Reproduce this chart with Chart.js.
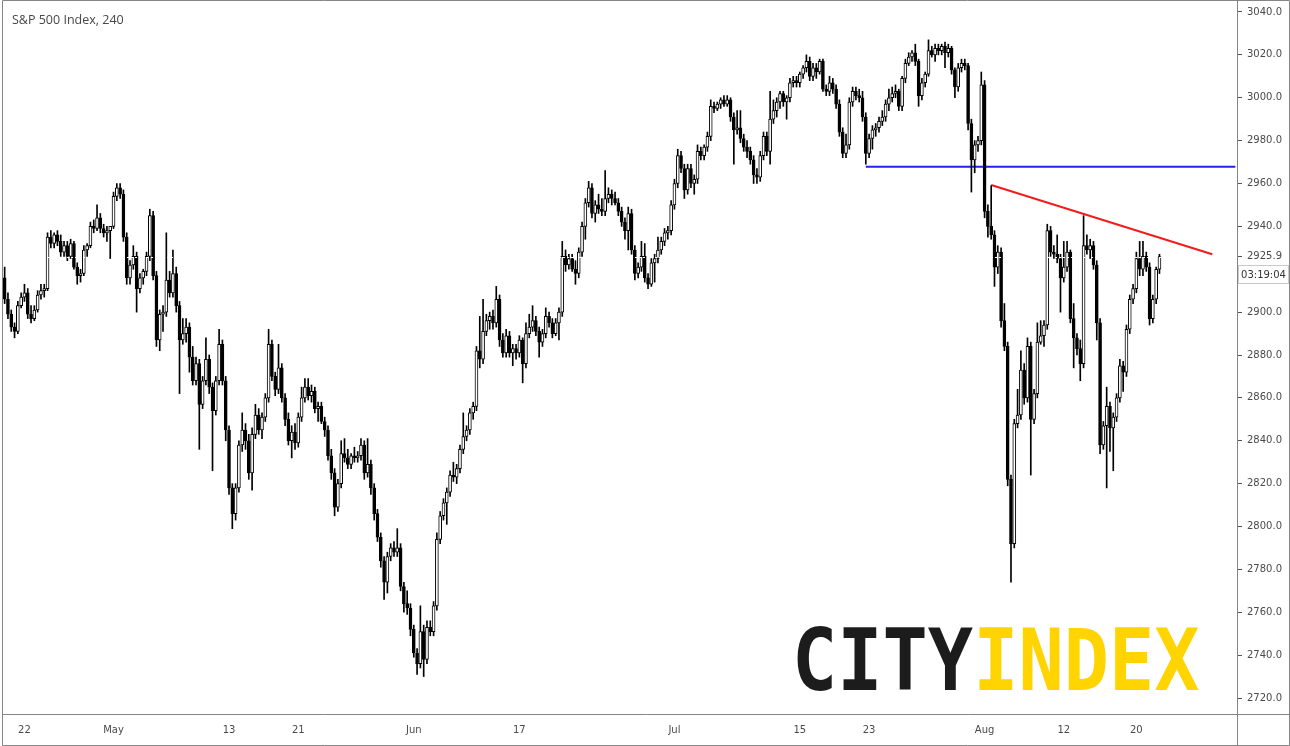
<!DOCTYPE html>
<html>
<head>
<meta charset="utf-8">
<title>S&amp;P 500 Index, 240</title>
<script src="https://cdn.jsdelivr.net/npm/chart.js@4.4.1/dist/chart.umd.min.js"></script>
<style>
  html, body { margin: 0; padding: 0; background: #fff; }
  #wrap { width: 1290px; height: 746px; }
</style>
</head>
<body>
<div id="wrap"><canvas id="spxChart" width="1290" height="746"></canvas></div>
<script>
// x axis: which bar slot carries which date label
const xTickSlots = [6, 33, 68, 89, 124, 156, 203, 241, 262, 297, 321, 343];
const xTickText = ['22', 'May', '13', '21', 'Jun', '17', 'Jul', '15', '23', 'Aug', '12', '20'];

// y axis labels (2920 is hidden behind the last price label)
const yTicks = [2720, 2740, 2760, 2780, 2800, 2820, 2840, 2860, 2880, 2900, 2925.9,
                2940, 2960, 2980, 3000, 3020, 3040];
const lastPrice = 2925.9;
const countdown = '03:19:04';
const totalSlots = 374; // bars + empty space on the right

// 240 minute candles
const opens = [
  2916, 2906, 2899, 2893, 2891, 2903, 2907, 2909, 2899, 2897,
  2901, 2908, 2910, 2911, 2935, 2932, 2936, 2933, 2928, 2931,
  2926, 2932, 2921, 2917, 2918, 2929, 2931, 2940, 2939, 2944,
  2939, 2937, 2938, 2940, 2954, 2958, 2955, 2935, 2916, 2922,
  2926, 2911, 2916, 2919, 2926, 2945, 2917, 2887, 2899, 2900,
  2915, 2909, 2918, 2903, 2887, 2890, 2893, 2879, 2868, 2876,
  2857, 2868, 2878, 2865, 2854, 2868, 2885, 2868, 2845, 2818,
  2806, 2818, 2838, 2845, 2840, 2825, 2843, 2852, 2845, 2851,
  2860, 2885, 2870, 2864, 2874, 2860, 2850, 2840, 2844, 2839,
  2851, 2860, 2865, 2861, 2863, 2855, 2856, 2849, 2845, 2833,
  2825, 2809, 2820, 2834, 2832, 2829, 2833, 2832, 2833, 2838,
  2825, 2829, 2818, 2806, 2795, 2784, 2774, 2786, 2790, 2788,
  2790, 2772, 2764, 2762, 2752, 2741, 2736, 2751, 2738, 2753,
  2751, 2763, 2794, 2805, 2811, 2816, 2824, 2823, 2827, 2836,
  2842, 2845, 2853, 2856, 2882, 2878, 2891, 2896, 2898, 2895,
  2906, 2887, 2881, 2889, 2881, 2883, 2881, 2887, 2876, 2890,
  2893, 2896, 2891, 2886, 2890, 2898, 2895, 2890, 2895, 2900,
  2926, 2922, 2925, 2920, 2918, 2928, 2940, 2951, 2958, 2946,
  2950, 2948, 2947, 2953, 2955, 2953, 2951, 2947, 2942, 2938,
  2946, 2929, 2918, 2921, 2926, 2916, 2913, 2923, 2925, 2929,
  2933, 2937, 2938, 2950, 2960, 2973, 2967, 2957, 2967, 2960,
  2962, 2975, 2973, 2977, 2982, 2996, 2995, 2997, 2999, 2997,
  2999, 2991, 2985, 2986, 2981, 2977, 2975, 2971, 2964, 2963,
  2973, 2982, 2975, 2990, 2994, 2998, 3002, 2998, 3000, 3007,
  3008, 3007, 3011, 3014, 3017, 3010, 3014, 3012, 3017, 3004,
  3003, 3007, 3004, 2997, 2984, 2974, 2978, 2998, 3003, 3001,
  3000, 2991, 2974, 2981, 2985, 2986, 2989, 2991, 2997, 3000,
  3002, 3003, 2996, 3009, 3016, 3019, 3021, 3017, 3001, 3007,
  3011, 3022, 3020, 3023, 3022, 3024, 3021, 3023, 3013, 3005,
  3014, 3016, 3015, 2988, 2971, 2978, 2980, 3006, 2947, 2940,
  2936, 2921, 2928, 2896, 2884, 2822, 2792, 2848, 2852, 2873,
  2860, 2884, 2850, 2862, 2886, 2889, 2894, 2938, 2928, 2927,
  2925, 2916, 2921, 2928, 2897, 2888, 2883, 2876, 2931, 2929,
  2931, 2922, 2895, 2838, 2847, 2856, 2846, 2851, 2860, 2875,
  2872, 2892, 2906, 2911, 2925, 2920, 2926, 2921, 2897, 2906, 2920
];
const highs = [
  2921, 2909, 2901, 2895, 2905, 2909, 2913, 2911, 2903, 2903,
  2910, 2913, 2913, 2937, 2938, 2937, 2938, 2936, 2933, 2933,
  2934, 2933, 2923, 2920, 2931, 2932, 2942, 2943, 2950, 2946,
  2941, 2940, 2940, 2956, 2960, 2960, 2957, 2937, 2924, 2931,
  2928, 2918, 2920, 2928, 2948, 2947, 2919, 2901, 2903, 2937,
  2919, 2929, 2921, 2905, 2897, 2897, 2895, 2884, 2879, 2878,
  2870, 2888, 2880, 2867, 2870, 2892, 2887, 2870, 2847, 2820,
  2820, 2840, 2853, 2848, 2843, 2846, 2857, 2855, 2853, 2862,
  2892, 2887, 2872, 2885, 2876, 2862, 2853, 2847, 2848, 2853,
  2865, 2869, 2869, 2866, 2865, 2858, 2858, 2851, 2847, 2836,
  2827, 2822, 2840, 2841, 2836, 2834, 2837, 2835, 2841, 2840,
  2841, 2831, 2820, 2808, 2797, 2786, 2788, 2792, 2793, 2799,
  2792, 2774, 2770, 2764, 2754, 2743, 2763, 2754, 2756, 2756,
  2765, 2797, 2807, 2813, 2818, 2826, 2830, 2829, 2838, 2853,
  2847, 2855, 2858, 2884, 2898, 2906, 2899, 2900, 2901, 2912,
  2908, 2890, 2892, 2891, 2885, 2885, 2889, 2888, 2895, 2899,
  2903, 2898, 2893, 2892, 2902, 2900, 2897, 2897, 2902, 2933,
  2929, 2927, 2927, 2924, 2930, 2942, 2953, 2961, 2960, 2952,
  2955, 2953, 2966, 2958, 2957, 2956, 2953, 2949, 2944, 2949,
  2948, 2931, 2923, 2933, 2932, 2918, 2925, 2927, 2935, 2935,
  2939, 2940, 2952, 2962, 2976, 2975, 2969, 2969, 2969, 2964,
  2978, 2977, 2978, 2984, 2999, 2998, 2998, 3000, 3001, 3001,
  3000, 2993, 2994, 2994, 2983, 2980, 2977, 2973, 2967, 2975,
  2984, 2984, 3003, 2999, 3000, 3003, 3003, 3001, 3009, 3010,
  3010, 3012, 3015, 3020, 3019, 3016, 3016, 3018, 3018, 3006,
  3010, 3009, 3006, 2999, 2986, 2983, 3000, 3005, 3005, 3004,
  3003, 2993, 2983, 2987, 2988, 2991, 2994, 2999, 3004, 3005,
  3006, 3004, 3010, 3018, 3021, 3022, 3025, 3018, 3009, 3012,
  3027, 3024, 3025, 3025, 3025, 3026, 3025, 3024, 3014, 3016,
  3018, 3018, 3016, 2990, 2980, 2982, 3012, 3008, 2950, 2959,
  2938, 2931, 2930, 2904, 2886, 2824, 2850, 2864, 2882, 2876,
  2888, 2886, 2864, 2895, 2896, 2896, 2941, 2940, 2931, 2936,
  2927, 2933, 2933, 2929, 2904, 2890, 2887, 2945, 2936, 2934,
  2933, 2924, 2897, 2849, 2865, 2858, 2853, 2862, 2878, 2877,
  2894, 2908, 2913, 2928, 2933, 2933, 2928, 2923, 2908, 2921, 2927
];
const lows = [
  2904, 2897, 2891, 2888, 2890, 2902, 2905, 2897, 2895, 2896,
  2900, 2906, 2907, 2910, 2930, 2930, 2931, 2926, 2926, 2924,
  2925, 2920, 2913, 2914, 2917, 2926, 2930, 2937, 2938, 2937,
  2935, 2933, 2925, 2939, 2952, 2953, 2933, 2913, 2913, 2920,
  2900, 2909, 2913, 2917, 2924, 2915, 2884, 2882, 2891, 2898,
  2907, 2907, 2900, 2862, 2885, 2886, 2872, 2866, 2866, 2836,
  2855, 2866, 2862, 2826, 2852, 2866, 2866, 2840, 2815, 2799,
  2803, 2816, 2835, 2836, 2822, 2817, 2841, 2843, 2841, 2849,
  2858, 2868, 2861, 2862, 2858, 2847, 2838, 2832, 2836, 2837,
  2849, 2858, 2859, 2858, 2853, 2849, 2848, 2842, 2831, 2822,
  2805, 2807, 2818, 2830, 2827, 2827, 2830, 2830, 2831, 2822,
  2823, 2815, 2803, 2793, 2781, 2766, 2769, 2784, 2786, 2786,
  2770, 2760, 2759, 2749, 2739, 2731, 2734, 2730, 2736, 2749,
  2749, 2761, 2792, 2803, 2801, 2814, 2821, 2820, 2825, 2834,
  2840, 2843, 2850, 2854, 2874, 2876, 2889, 2892, 2892, 2893,
  2884, 2879, 2879, 2879, 2875, 2878, 2879, 2867, 2874, 2888,
  2891, 2889, 2879, 2884, 2888, 2893, 2888, 2889, 2887, 2898,
  2919, 2920, 2919, 2913, 2916, 2926, 2934, 2949, 2944, 2942,
  2946, 2945, 2945, 2951, 2950, 2950, 2945, 2940, 2934, 2929,
  2927, 2915, 2916, 2919, 2914, 2911, 2912, 2914, 2923, 2927,
  2931, 2934, 2936, 2948, 2958, 2965, 2953, 2955, 2958, 2955,
  2960, 2971, 2971, 2975, 2980, 2993, 2994, 2995, 2996, 2996,
  2989, 2969, 2983, 2979, 2975, 2972, 2969, 2960, 2960, 2961,
  2971, 2973, 2969, 2988, 2991, 2995, 2996, 2990, 2998, 3005,
  3005, 3005, 3009, 3012, 3008, 3008, 3009, 3011, 3003, 3001,
  3001, 3002, 2995, 2982, 2972, 2972, 2976, 2996, 2999, 2998,
  2989, 2969, 2972, 2976, 2982, 2984, 2987, 2989, 2994, 2998,
  3000, 2994, 2994, 3007, 3015, 3017, 3015, 2996, 2999, 3005,
  3010, 3019, 3017, 3020, 3020, 3014, 3019, 3011, 3000, 3003,
  3012, 3013, 2985, 2956, 2965, 2975, 2978, 2944, 2935, 2934,
  2912, 2918, 2893, 2882, 2819, 2774, 2790, 2846, 2850, 2857,
  2858, 2824, 2848, 2860, 2885, 2884, 2892, 2926, 2925, 2923,
  2900, 2914, 2919, 2895, 2874, 2880, 2868, 2874, 2927, 2925,
  2920, 2887, 2834, 2836, 2818, 2835, 2826, 2849, 2858, 2863,
  2870, 2890, 2904, 2909, 2917, 2917, 2919, 2894, 2895, 2904, 2918
];
const closes = [
  2906, 2899, 2893, 2891, 2903, 2907, 2909, 2899, 2897, 2901,
  2908, 2910, 2911, 2935, 2932, 2936, 2933, 2928, 2931, 2926,
  2932, 2921, 2917, 2918, 2929, 2931, 2940, 2939, 2944, 2939,
  2937, 2938, 2940, 2954, 2958, 2955, 2935, 2916, 2922, 2926,
  2911, 2916, 2919, 2926, 2945, 2917, 2887, 2899, 2900, 2915,
  2909, 2918, 2903, 2887, 2890, 2893, 2879, 2868, 2876, 2857,
  2868, 2878, 2865, 2854, 2868, 2885, 2868, 2845, 2818, 2806,
  2818, 2838, 2845, 2840, 2825, 2843, 2852, 2845, 2851, 2860,
  2885, 2870, 2864, 2874, 2860, 2850, 2840, 2844, 2839, 2851,
  2860, 2865, 2861, 2863, 2855, 2856, 2849, 2845, 2833, 2825,
  2809, 2820, 2834, 2832, 2829, 2833, 2832, 2833, 2838, 2825,
  2829, 2818, 2806, 2795, 2784, 2774, 2786, 2790, 2788, 2790,
  2772, 2764, 2762, 2752, 2741, 2736, 2751, 2738, 2753, 2751,
  2763, 2794, 2805, 2811, 2816, 2824, 2823, 2827, 2836, 2842,
  2845, 2853, 2856, 2882, 2878, 2891, 2896, 2898, 2895, 2906,
  2887, 2881, 2889, 2881, 2883, 2881, 2887, 2876, 2890, 2893,
  2896, 2891, 2886, 2890, 2898, 2895, 2890, 2895, 2900, 2926,
  2922, 2925, 2920, 2918, 2928, 2940, 2951, 2958, 2946, 2950,
  2948, 2947, 2953, 2955, 2953, 2951, 2947, 2942, 2938, 2946,
  2929, 2918, 2921, 2926, 2916, 2913, 2923, 2925, 2929, 2933,
  2937, 2938, 2950, 2960, 2973, 2967, 2957, 2967, 2960, 2962,
  2975, 2973, 2977, 2982, 2996, 2995, 2997, 2999, 2997, 2999,
  2991, 2985, 2986, 2981, 2977, 2975, 2971, 2964, 2963, 2973,
  2982, 2975, 2990, 2994, 2998, 3002, 2998, 3000, 3007, 3008,
  3007, 3011, 3014, 3017, 3010, 3014, 3012, 3017, 3004, 3003,
  3007, 3004, 2997, 2984, 2974, 2978, 2998, 3003, 3001, 3000,
  2991, 2974, 2981, 2985, 2986, 2989, 2991, 2997, 3000, 3002,
  3003, 2996, 3009, 3016, 3019, 3021, 3017, 3001, 3007, 3011,
  3022, 3020, 3023, 3022, 3024, 3021, 3023, 3013, 3005, 3014,
  3016, 3015, 2988, 2971, 2978, 2980, 3006, 2947, 2940, 2936,
  2921, 2928, 2896, 2884, 2822, 2792, 2848, 2852, 2873, 2860,
  2884, 2850, 2862, 2886, 2889, 2894, 2938, 2928, 2927, 2925,
  2916, 2921, 2928, 2897, 2888, 2883, 2876, 2931, 2929, 2931,
  2922, 2895, 2838, 2847, 2856, 2846, 2851, 2860, 2875, 2872,
  2892, 2906, 2911, 2925, 2920, 2926, 2921, 2897, 2906, 2920, 2925.9
];

// drawn lines: [slot, price]
const blueLine = [[261, 2967.8], [373, 2967.8]];
const redLine = [[299, 2959.3], [366, 2927.0]];

const slots = Array.from({ length: totalSlots }, (_, i) => i);
const bodies = opens.map((o, i) => [o, closes[i]]);
const wicks = lows.map((l, i) => [l, highs[i]]);
const bodyColors = opens.map((o, i) => closes[i] >= o ? '#ffffff' : '#000000');

const axisFont = { family: 'DejaVu Sans', size: 10 };

// frame, title, countdown box, last price dotted line and watermark
const decorPlugin = {
    id: 'decor',
    beforeDatasetsDraw(chart) {
        const ctx = chart.ctx;
        ctx.save();
        ctx.font = 'bold 85px "DejaVu Sans Mono"';
        ctx.textBaseline = 'alphabetic';
        ctx.translate(792, 690);
        ctx.scale(0.885, 1);
        ctx.fillStyle = '#1c1c1c';
        ctx.fillText('CITY', 0, 0);
        const w = ctx.measureText('CITY').width;
        ctx.fillStyle = '#ffd400';
        ctx.fillText('INDEX', w, 0);
        ctx.restore();
    },
    afterDatasetsDraw(chart) {
        const ctx = chart.ctx;
        const area = chart.chartArea;
        const y = Math.round(chart.scales.y.getPixelForValue(lastPrice)) + 0.5;
        ctx.save();
        ctx.strokeStyle = '#ffffff';
        ctx.lineWidth = 1;
        ctx.setLineDash([2, 2]);
        ctx.beginPath();
        ctx.moveTo(area.left, y);
        ctx.lineTo(area.right, y);
        ctx.stroke();
        ctx.restore();
    },
    afterDraw(chart) {
        const ctx = chart.ctx;
        const area = chart.chartArea;
        const W = chart.width, H = chart.height;
        ctx.save();
        ctx.strokeStyle = '#858585';
        ctx.lineWidth = 1;
        ctx.beginPath();
        ctx.rect(2.5, 0.5, W - 3, H - 1);
        ctx.moveTo(2.5, area.bottom + 0.5);
        ctx.lineTo(W, area.bottom + 0.5);
        ctx.moveTo(area.right + 0.5, 0);
        ctx.lineTo(area.right + 0.5, H);
        ctx.stroke();

        // countdown under the last price label
        const py = chart.scales.y.getPixelForValue(lastPrice);
        ctx.strokeStyle = '#c9c9c9';
        ctx.strokeRect(area.right + 1.5, Math.round(py) + 8.5, W - area.right - 3, 18);
        ctx.fillStyle = '#333333';
        ctx.font = '10px "DejaVu Sans"';
        ctx.textAlign = 'center';
        ctx.textBaseline = 'middle';
        ctx.fillText(countdown, area.right + (W - area.right) / 2, Math.round(py) + 18);

        // title
        ctx.textAlign = 'left';
        ctx.fillStyle = '#474747';
        ctx.font = '12.5px "Open Sans"';
        ctx.fillText('S&P 500 Index, 240', 12, 20);
        ctx.restore();
    }
};

const spxChart = new Chart(document.getElementById('spxChart'), {
    type: 'bar',
    data: {
        labels: slots,
        datasets: [
            {
                label: 'Body',
                data: bodies,
                backgroundColor: bodyColors,
                borderColor: '#000000',
                borderWidth: 1,
                borderSkipped: false,
                barThickness: 3,
                grouped: false,
                order: 1
            },
            {
                label: 'Wick',
                data: wicks,
                backgroundColor: '#000000',
                borderWidth: 0,
                barThickness: 1,
                grouped: false,
                order: 2
            },
            {
                type: 'line',
                label: 'Level',
                data: blueLine.map(p => ({ x: p[0], y: p[1] })),
                borderColor: '#2222f0',
                borderWidth: 2,
                pointRadius: 0,
                order: 3
            },
            {
                type: 'line',
                label: 'Trend',
                data: redLine.map(p => ({ x: p[0], y: p[1] })),
                borderColor: '#f21c1c',
                borderWidth: 2,
                pointRadius: 0,
                order: 3
            }
        ]
    },
    options: {
        responsive: false,
        animation: false,
        layout: { padding: { left: 3, top: 1, right: 0, bottom: 0 } },
        plugins: {
            legend: { display: false },
            tooltip: { enabled: false }
        },
        scales: {
            x: {
                type: 'category',
                offset: true,
                grid: { display: false, drawTicks: false },
                border: { display: false },
                ticks: {
                    autoSkip: false,
                    maxRotation: 0,
                    minRotation: 0,
                    padding: 10,
                    color: '#4a4a4a',
                    font: axisFont,
                    callback: v => xTickText[xTickSlots.indexOf(v)]
                },
                afterBuildTicks: s => { s.ticks = xTickSlots.map(v => ({ value: v })); },
                afterFit: s => {
                    s.height = 32;
                    s.paddingLeft = 0;
                    s.paddingRight = 0;
                }
            },
            y: {
                position: 'right',
                min: 2712.54,
                max: 3045.13,
                grid: { drawOnChartArea: false, drawTicks: true, tickLength: 5, color: '#555555' },
                border: { display: false },
                ticks: {
                    padding: 5,
                    color: '#4a4a4a',
                    font: axisFont,
                    callback: v => v.toFixed(1)
                },
                afterBuildTicks: s => { s.ticks = yTicks.map(v => ({ value: v })); },
                afterFit: s => {
                    s.width = 53;
                    s.paddingTop = 0;
                    s.paddingBottom = 0;
                }
            }
        }
    },
    plugins: [decorPlugin]
});
</script>
</body>
</html>
